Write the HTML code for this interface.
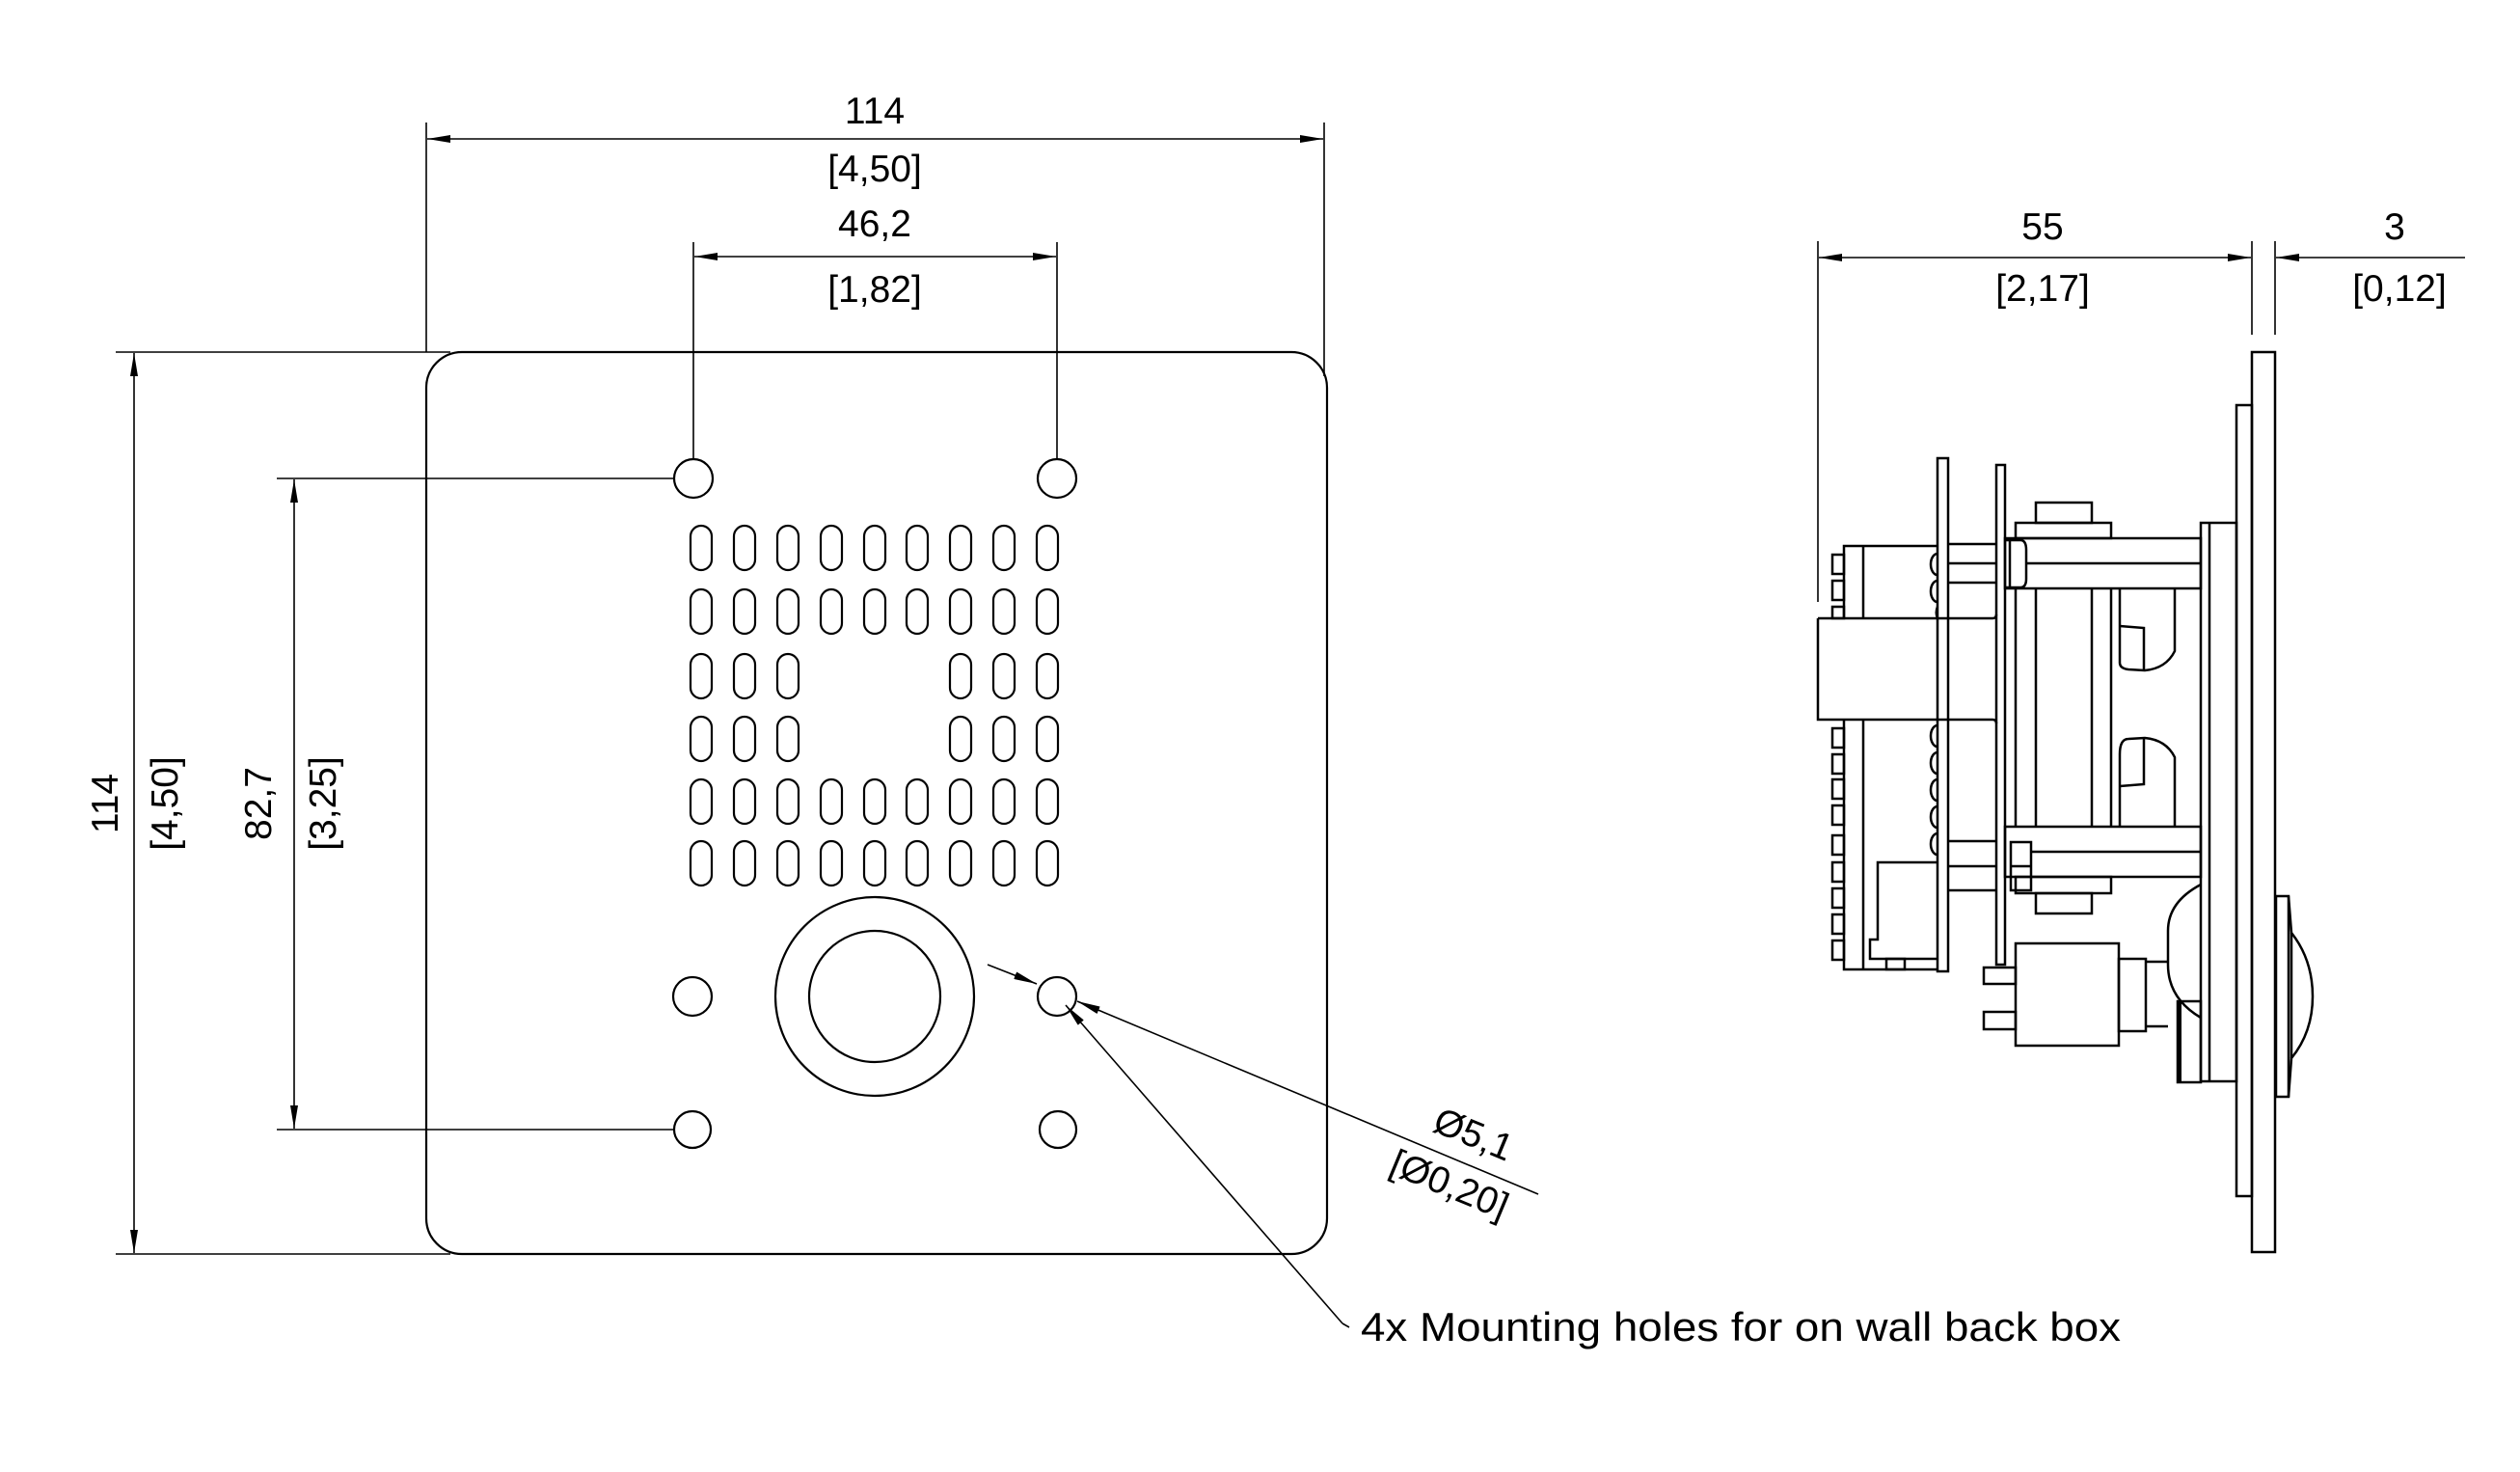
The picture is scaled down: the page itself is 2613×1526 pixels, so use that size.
<!DOCTYPE html>
<html><head><meta charset="utf-8"><style>html,body{margin:0;padding:0;background:#fff}svg{display:block}</style></head>
<body>
<svg width="2613" height="1526" viewBox="0 0 2613 1526" xmlns="http://www.w3.org/2000/svg" font-family="Liberation Sans, sans-serif" fill="none" stroke="#000">
<defs>
<marker id="a" viewBox="0 0 24 8" refX="24" refY="4" markerWidth="24" markerHeight="8" markerUnits="userSpaceOnUse" orient="auto-start-reverse"><path d="M0,0 L24,4 L0,8 Z" fill="#000" stroke="none"/></marker>
</defs>
<!-- FRONT PLATE -->
<g stroke-width="2.2">
<rect x="442" y="365" width="934" height="935" rx="37" ry="37"/>
<circle cx="719" cy="496" r="20"/><circle cx="1096" cy="496" r="20"/>
<circle cx="718" cy="1033" r="20"/><circle cx="1096" cy="1033" r="20"/>
<circle cx="718" cy="1171" r="19"/><circle cx="1097" cy="1171" r="19"/>
<circle cx="907" cy="1033" r="103"/><circle cx="907" cy="1033" r="68"/>
<g>
<rect x="716" y="545" width="22" height="46" rx="11"/><rect x="761" y="545" width="22" height="46" rx="11"/><rect x="806" y="545" width="22" height="46" rx="11"/><rect x="851" y="545" width="22" height="46" rx="11"/><rect x="896" y="545" width="22" height="46" rx="11"/><rect x="940" y="545" width="22" height="46" rx="11"/><rect x="985" y="545" width="22" height="46" rx="11"/><rect x="1030" y="545" width="22" height="46" rx="11"/><rect x="1075" y="545" width="22" height="46" rx="11"/>
<rect x="716" y="611" width="22" height="46" rx="11"/><rect x="761" y="611" width="22" height="46" rx="11"/><rect x="806" y="611" width="22" height="46" rx="11"/><rect x="851" y="611" width="22" height="46" rx="11"/><rect x="896" y="611" width="22" height="46" rx="11"/><rect x="940" y="611" width="22" height="46" rx="11"/><rect x="985" y="611" width="22" height="46" rx="11"/><rect x="1030" y="611" width="22" height="46" rx="11"/><rect x="1075" y="611" width="22" height="46" rx="11"/>
<rect x="716" y="678" width="22" height="46" rx="11"/><rect x="761" y="678" width="22" height="46" rx="11"/><rect x="806" y="678" width="22" height="46" rx="11"/><rect x="985" y="678" width="22" height="46" rx="11"/><rect x="1030" y="678" width="22" height="46" rx="11"/><rect x="1075" y="678" width="22" height="46" rx="11"/>
<rect x="716" y="743" width="22" height="46" rx="11"/><rect x="761" y="743" width="22" height="46" rx="11"/><rect x="806" y="743" width="22" height="46" rx="11"/><rect x="985" y="743" width="22" height="46" rx="11"/><rect x="1030" y="743" width="22" height="46" rx="11"/><rect x="1075" y="743" width="22" height="46" rx="11"/>
<rect x="716" y="808" width="22" height="46" rx="11"/><rect x="761" y="808" width="22" height="46" rx="11"/><rect x="806" y="808" width="22" height="46" rx="11"/><rect x="851" y="808" width="22" height="46" rx="11"/><rect x="896" y="808" width="22" height="46" rx="11"/><rect x="940" y="808" width="22" height="46" rx="11"/><rect x="985" y="808" width="22" height="46" rx="11"/><rect x="1030" y="808" width="22" height="46" rx="11"/><rect x="1075" y="808" width="22" height="46" rx="11"/>
<rect x="716" y="872" width="22" height="46" rx="11"/><rect x="761" y="872" width="22" height="46" rx="11"/><rect x="806" y="872" width="22" height="46" rx="11"/><rect x="851" y="872" width="22" height="46" rx="11"/><rect x="896" y="872" width="22" height="46" rx="11"/><rect x="940" y="872" width="22" height="46" rx="11"/><rect x="985" y="872" width="22" height="46" rx="11"/><rect x="1030" y="872" width="22" height="46" rx="11"/><rect x="1075" y="872" width="22" height="46" rx="11"/>
</g>
</g>
<!-- DIMENSIONS FRONT -->
<g stroke-width="1.6">
<line x1="442" y1="127" x2="442" y2="365"/><line x1="1373" y1="127" x2="1373" y2="390"/>
<line x1="443" y1="144" x2="1372" y2="144" marker-start="url(#a)" marker-end="url(#a)"/>
<line x1="719" y1="251" x2="719" y2="476"/><line x1="1096" y1="251" x2="1096" y2="476"/>
<line x1="720" y1="266" x2="1095" y2="266" marker-start="url(#a)" marker-end="url(#a)"/>
<line x1="120" y1="365" x2="467" y2="365"/><line x1="120" y1="1300" x2="467" y2="1300"/>
<line x1="139" y1="366" x2="139" y2="1299" marker-start="url(#a)" marker-end="url(#a)"/>
<line x1="287" y1="496" x2="699" y2="496"/><line x1="287" y1="1171" x2="699" y2="1171"/>
<line x1="305" y1="497" x2="305" y2="1170" marker-start="url(#a)" marker-end="url(#a)"/>
<line x1="1024" y1="1000" x2="1075" y2="1020" marker-end="url(#a)"/>
<line x1="1595" y1="1238" x2="1117" y2="1038" marker-end="url(#a)"/>
<line x1="1399" y1="1376" x2="1392" y2="1372"/>
<line x1="1392" y1="1372" x2="1105" y2="1042" marker-end="url(#a)"/>
</g>
<g fill="#000" stroke="none" font-size="39" text-anchor="middle">
<text x="907" y="128">114</text>
<text x="907" y="188">[4,50]</text>
<text x="907" y="245">46,2</text>
<text x="907" y="313">[1,82]</text>
<text transform="translate(122,833) rotate(-90)">114</text>
<text transform="translate(184,833) rotate(-90)">[4,50]</text>
<text transform="translate(281,833) rotate(-90)">82,7</text>
<text transform="translate(348,833) rotate(-90)">[3,25]</text>
<text transform="translate(1523,1188) rotate(22.5)">Ø5,1</text>
<text transform="translate(1498,1240) rotate(22.5)">[Ø0,20]</text>
<text x="1411" y="1390" text-anchor="start" font-size="42" textLength="788" lengthAdjust="spacingAndGlyphs">4x Mounting holes for on wall back box</text>
<text x="2118" y="248">55</text>
<text x="2118" y="312">[2,17]</text>
<text x="2483" y="248">3</text>
<text x="2488" y="312">[0,12]</text>
</g>
<!-- SIDE DIMENSIONS -->
<g stroke-width="1.6">
<line x1="1885" y1="250" x2="1885" y2="624"/>
<line x1="2335" y1="250" x2="2335" y2="347"/><line x1="2359" y1="250" x2="2359" y2="347"/>
<line x1="1886" y1="267" x2="2334" y2="267" marker-start="url(#a)" marker-end="url(#a)"/>
<line x1="2556" y1="267" x2="2360" y2="267" marker-end="url(#a)"/>
</g>
<!-- SIDE VIEW -->
<g stroke-width="2.5">
<rect x="2335" y="365" width="24" height="933"/>
<rect x="2319" y="420" width="16" height="820"/>
<rect x="2282" y="542" width="37" height="579"/>
<line x1="2291" y1="542" x2="2291" y2="1121"/>
<rect x="2079" y="558" width="203" height="52"/><line x1="2101" y1="584" x2="2282" y2="584"/>
<path d="M2079,560 L2095,560 Q2101,560 2101,570 L2101,600 Q2101,609 2095,609 L2079,609" />
<line x1="2084" y1="560" x2="2084" y2="609"/>
<rect x="2079" y="857" width="203" height="52"/><line x1="2106" y1="883" x2="2282" y2="883"/>
<rect x="2085" y="873" width="21" height="50"/><line x1="2085" y1="898" x2="2106" y2="898"/>
<rect x="2090" y="542" width="99" height="16"/><rect x="2111" y="521" width="58" height="21"/>
<rect x="2090" y="909" width="99" height="17"/><rect x="2111" y="926" width="58" height="21"/>
<line x1="2090" y1="610" x2="2090" y2="857"/><line x1="2111" y1="610" x2="2111" y2="857"/>
<line x1="2169" y1="610" x2="2169" y2="857"/><line x1="2189" y1="610" x2="2189" y2="857"/>
<path d="M2198,610 L2198,687 Q2198,693 2207,694 L2224,695 Q2246,693 2255,675 L2255,610"/>
<path d="M2198,649 L2223,651 L2223,695"/>
<path d="M2198,856 L2198,782 Q2198,766 2207,766 L2224,765 Q2246,767 2255,785 L2255,856"/>
<path d="M2198,815 L2223,813 L2223,765"/>
<rect x="2070" y="482" width="9" height="518"/>
<rect x="2009" y="475" width="11" height="532"/>
<path d="M1885,641 L2066,641 Q2070,641 2070,637 M1885,641 L1885,746 L2066,746 Q2070,746 2070,750"/>
<line x1="2020" y1="564" x2="2070" y2="564"/><line x1="2020" y1="584" x2="2070" y2="584"/><line x1="2020" y1="604" x2="2070" y2="604"/>
<line x1="2020" y1="872" x2="2070" y2="872"/><line x1="2020" y1="898" x2="2070" y2="898"/><line x1="2020" y1="923" x2="2070" y2="923"/>
<path d="M1912,641 L1912,566 L2009,566 M1912,746 L1912,1005 L2009,1005"/>
<line x1="1932" y1="566" x2="1932" y2="641"/><line x1="1932" y1="746" x2="1932" y2="1005"/>
<path d="M2009,574 a7,11 0 0 0 0,22 M2009,602 a7,11 0 0 0 0,22 M2009,629 a7,11 0 0 0 0,12"/>
<path d="M2009,752 a7,11 0 0 0 0,22 M2009,780 a7,11 0 0 0 0,22 M2009,808 a7,11 0 0 0 0,22 M2009,836 a7,11 0 0 0 0,22 M2009,864 a7,11 0 0 0 0,22"/>
<rect x="1900" y="575" width="12" height="20"/><rect x="1900" y="602" width="12" height="20"/><rect x="1900" y="629" width="12" height="12"/>
<rect x="1900" y="755" width="12" height="20"/><rect x="1900" y="782" width="12" height="20"/><rect x="1900" y="808" width="12" height="20"/><rect x="1900" y="835" width="12" height="20"/><rect x="1900" y="866" width="12" height="20"/><rect x="1900" y="894" width="12" height="20"/><rect x="1900" y="921" width="12" height="20"/><rect x="1900" y="948" width="12" height="20"/><rect x="1900" y="975" width="12" height="20"/>
<path d="M2009,894 L1947,894 L1947,974 L1939,974 L1939,994 L2009,994"/>
<rect x="1956" y="994" width="19" height="11"/>
<rect x="2090" y="978" width="107" height="106"/>
<rect x="2057" y="1003" width="33" height="17"/><rect x="2057" y="1049" width="33" height="18"/>
<rect x="2197" y="994" width="28" height="75"/>
<line x1="2225" y1="997" x2="2248" y2="997"/><line x1="2225" y1="1064" x2="2248" y2="1064"/>
<path d="M2282,917 Q2248,935 2248,965 L2248,1000 Q2248,1035 2282,1055"/>
<rect x="2258" y="1038" width="24" height="84"/><line x1="2260" y1="1038" x2="2260" y2="1122" stroke-width="4"/>
<rect x="2360" y="929" width="13" height="208"/>
<path d="M2373,929 L2376,967 Q2398,995 2398,1033 Q2398,1070 2376,1097 L2373,1137"/>
<line x1="2376" y1="967" x2="2376" y2="1097"/>
</g>
</svg>
</body></html>
